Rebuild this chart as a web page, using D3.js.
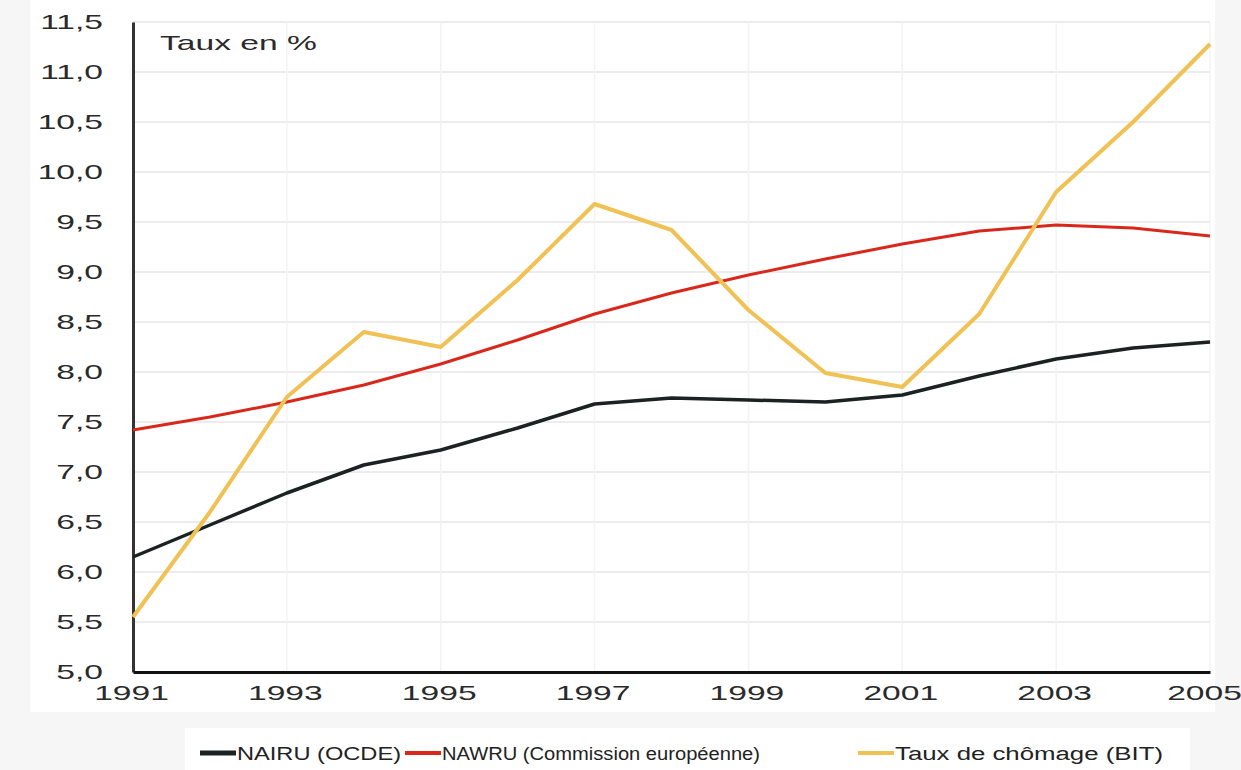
<!DOCTYPE html>
<html><head><meta charset="utf-8">
<script src="https://cdn.jsdelivr.net/npm/d3@7"></script>
<style>
html,body{margin:0;padding:0;background:#f6f6f6;}
svg{display:block;font-family:"Liberation Sans",Arial,sans-serif;}
</style></head>
<body>
<svg id="c" width="1241" height="770"></svg>
<script>
const years = [1991,1992,1993,1994,1995,1996,1997,1998,1999,2000,2001,2002,2003,2004,2005];
const nairu = [6.15,6.47,6.79,7.07,7.22,7.44,7.68,7.74,7.72,7.70,7.77,7.96,8.13,8.24,8.30];
const nawru = [7.42,7.55,7.70,7.87,8.08,8.32,8.58,8.79,8.97,9.13,9.28,9.41,9.47,9.44,9.36];
const chomage = [5.55,6.60,7.75,8.40,8.25,8.92,9.68,9.42,8.62,7.99,7.85,8.58,9.80,10.50,11.28];
const yTicks = [5.0,5.5,6.0,6.5,7.0,7.5,8.0,8.5,9.0,9.5,10.0,10.5,11.0,11.5];
const xTicks = [1991,1993,1995,1997,1999,2001,2003,2005];
const seriesNames = ["NAIRU (OCDE)","NAWRU (Commission européenne)","Taux de chômage (BIT)"];
const seriesColors = ["#1b2222","#d8281c","#f0c154"];

const svg = d3.select("#c");
const m = {left:133, right:1210, top:22, bottom:672};
const x = d3.scaleLinear().domain([1991,2005]).range([m.left,m.right]);
const y = d3.scaleLinear().domain([5,11.5]).range([m.bottom,m.top]);
const SX = 1.6;
const FS = 21;

// white panels
svg.append("rect").attr("x",30).attr("y",0).attr("width",1185).attr("height",712).attr("fill","#fff");
svg.append("rect").attr("x",185).attr("y",728).attr("width",1005).attr("height",42).attr("fill","#fff");

// grid
svg.append("g").selectAll("line").data(yTicks.slice(1)).join("line")
  .attr("x1",m.left).attr("x2",m.right).attr("y1",d=>y(d)).attr("y2",d=>y(d))
  .attr("stroke","#e6e6e6").attr("stroke-width",1.5);
svg.append("g").selectAll("line").data(xTicks.slice(1)).join("line")
  .attr("x1",d=>x(d)).attr("x2",d=>x(d)).attr("y1",m.top).attr("y2",m.bottom)
  .attr("stroke","#f3f3f3").attr("stroke-width",1.5);

// axes
const fmt = d=>d3.format(".1f")(d).replace(".",",");
const yAxis = svg.append("g").attr("transform",`translate(${m.left},0)`)
  .call(d3.axisLeft(y).tickValues(yTicks).tickFormat(fmt).tickSize(0));
yAxis.select(".domain").attr("stroke","#333").attr("stroke-width",3);
yAxis.selectAll("text").attr("font-size",FS).attr("fill","#2a2a2a")
  .attr("transform",`scale(${SX},1)`).attr("x",-30/SX).attr("dy","0.3em");

const xAxis = svg.append("g").attr("transform",`translate(0,${m.bottom})`)
  .call(d3.axisBottom(x).tickValues(xTicks).tickFormat(d3.format("d")).tickSize(0).tickPadding(13));
xAxis.select(".domain").attr("stroke","#111").attr("stroke-width",3);
xAxis.selectAll("text").attr("font-size",FS).attr("fill","#2a2a2a")
  .attr("transform",`scale(${SX},1)`).attr("x",d=>(d===2005?-6:-2)/SX);

// label
svg.append("text").attr("x",160/SX).attr("y",50).attr("font-size",FS).attr("fill","#2a2a2a")
  .attr("transform",`scale(${SX},1)`).text("Taux en %");

// lines
const line = d3.line().x((d,i)=>x(years[i])).y(d=>y(d));
const data = [nairu,nawru,chomage];
const widths = [3.5,3,4];
data.forEach((s,k)=>{
  svg.append("path").datum(s).attr("d",line).attr("fill","none")
    .attr("stroke",seriesColors[k]).attr("stroke-width",widths[k]).attr("stroke-linejoin","round");
});

// legend
const legX = [200,405,858];
const legW = [164,318,268];
seriesNames.forEach((n,k)=>{
  svg.append("line").attr("x1",legX[k]).attr("x2",legX[k]+36).attr("y1",753).attr("y2",753)
    .attr("stroke",seriesColors[k]).attr("stroke-width",k===0?5:4);
  svg.append("text").attr("x",legX[k]+37).attr("y",760).attr("font-size",18).attr("fill","#222")
    .attr("textLength",legW[k]).attr("lengthAdjust","spacingAndGlyphs").text(n);
});
</script>
</body></html>
